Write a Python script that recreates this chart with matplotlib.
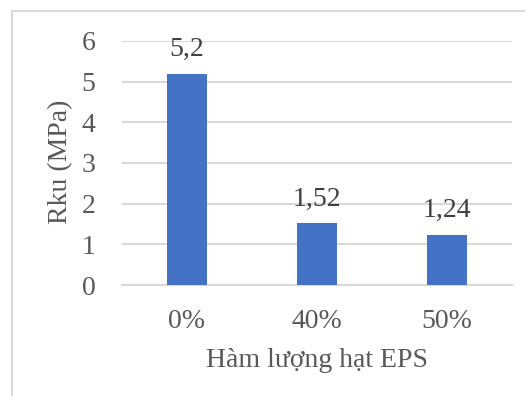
import matplotlib
matplotlib.use("Agg")
import matplotlib.pyplot as plt
from matplotlib.patches import Rectangle

categories = ["0%", "40%", "50%"]
values = [5.2, 1.52, 1.24]
value_labels = ["5,2", "1,52", "1,24"]
y_ticks = [0, 1, 2, 3, 4, 5, 6]

plt.rcParams['font.family'] = ['Liberation Serif', 'DejaVu Serif']
fs = 20

fig = plt.figure(figsize=(5.25, 3.96), dpi=100)
ax = fig.add_axes([0.2324, 0.2803, 0.7426, 0.6162])

# light frame around the chart area
fig.patches.append(Rectangle((12/525, -0.1), 1.2, 1 - 11/396 + 0.1,
                             transform=fig.transFigure, fill=False,
                             edgecolor='#D9D9D9', linewidth=1.5))

x = range(len(categories))
bars = ax.bar(x, values, width=0.31, color='#4472C4', zorder=3)

for xi, v, lab in zip(x, values, value_labels):
    ax.annotate(lab, (xi, v), xytext=(0, 12.5), textcoords='offset points',
                ha='center', va='baseline', fontsize=fs, color='#404040')

ax.set_xlim(-0.5, 2.5)
ax.set_ylim(0, 6)
ax.set_yticks(y_ticks)
ax.set_xticks(list(x))
ax.set_xticklabels(categories)
ax.grid(axis='y', color='#D9D9D9', linewidth=1.5, zorder=0)
for s in ['top', 'right', 'left']:
    ax.spines[s].set_visible(False)
ax.spines['bottom'].set_color('#D9D9D9')
ax.spines['bottom'].set_linewidth(1.5)
ax.tick_params(axis='both', length=0, labelsize=fs, labelcolor='#595959')
ax.tick_params(axis='y', pad=19)
ax.tick_params(axis='x', pad=17)

# y title sits right next to the tick numbers
fig.text(61/525, 1 - 162/396, "Rku (MPa)", rotation=90, ha='center', va='center',
         fontsize=fs, color='#595959')
ax.set_xlabel("Hàm lượng hạt EPS", fontsize=fs, color='#595959', labelpad=10)

fig.savefig("out.png", dpi=100)
